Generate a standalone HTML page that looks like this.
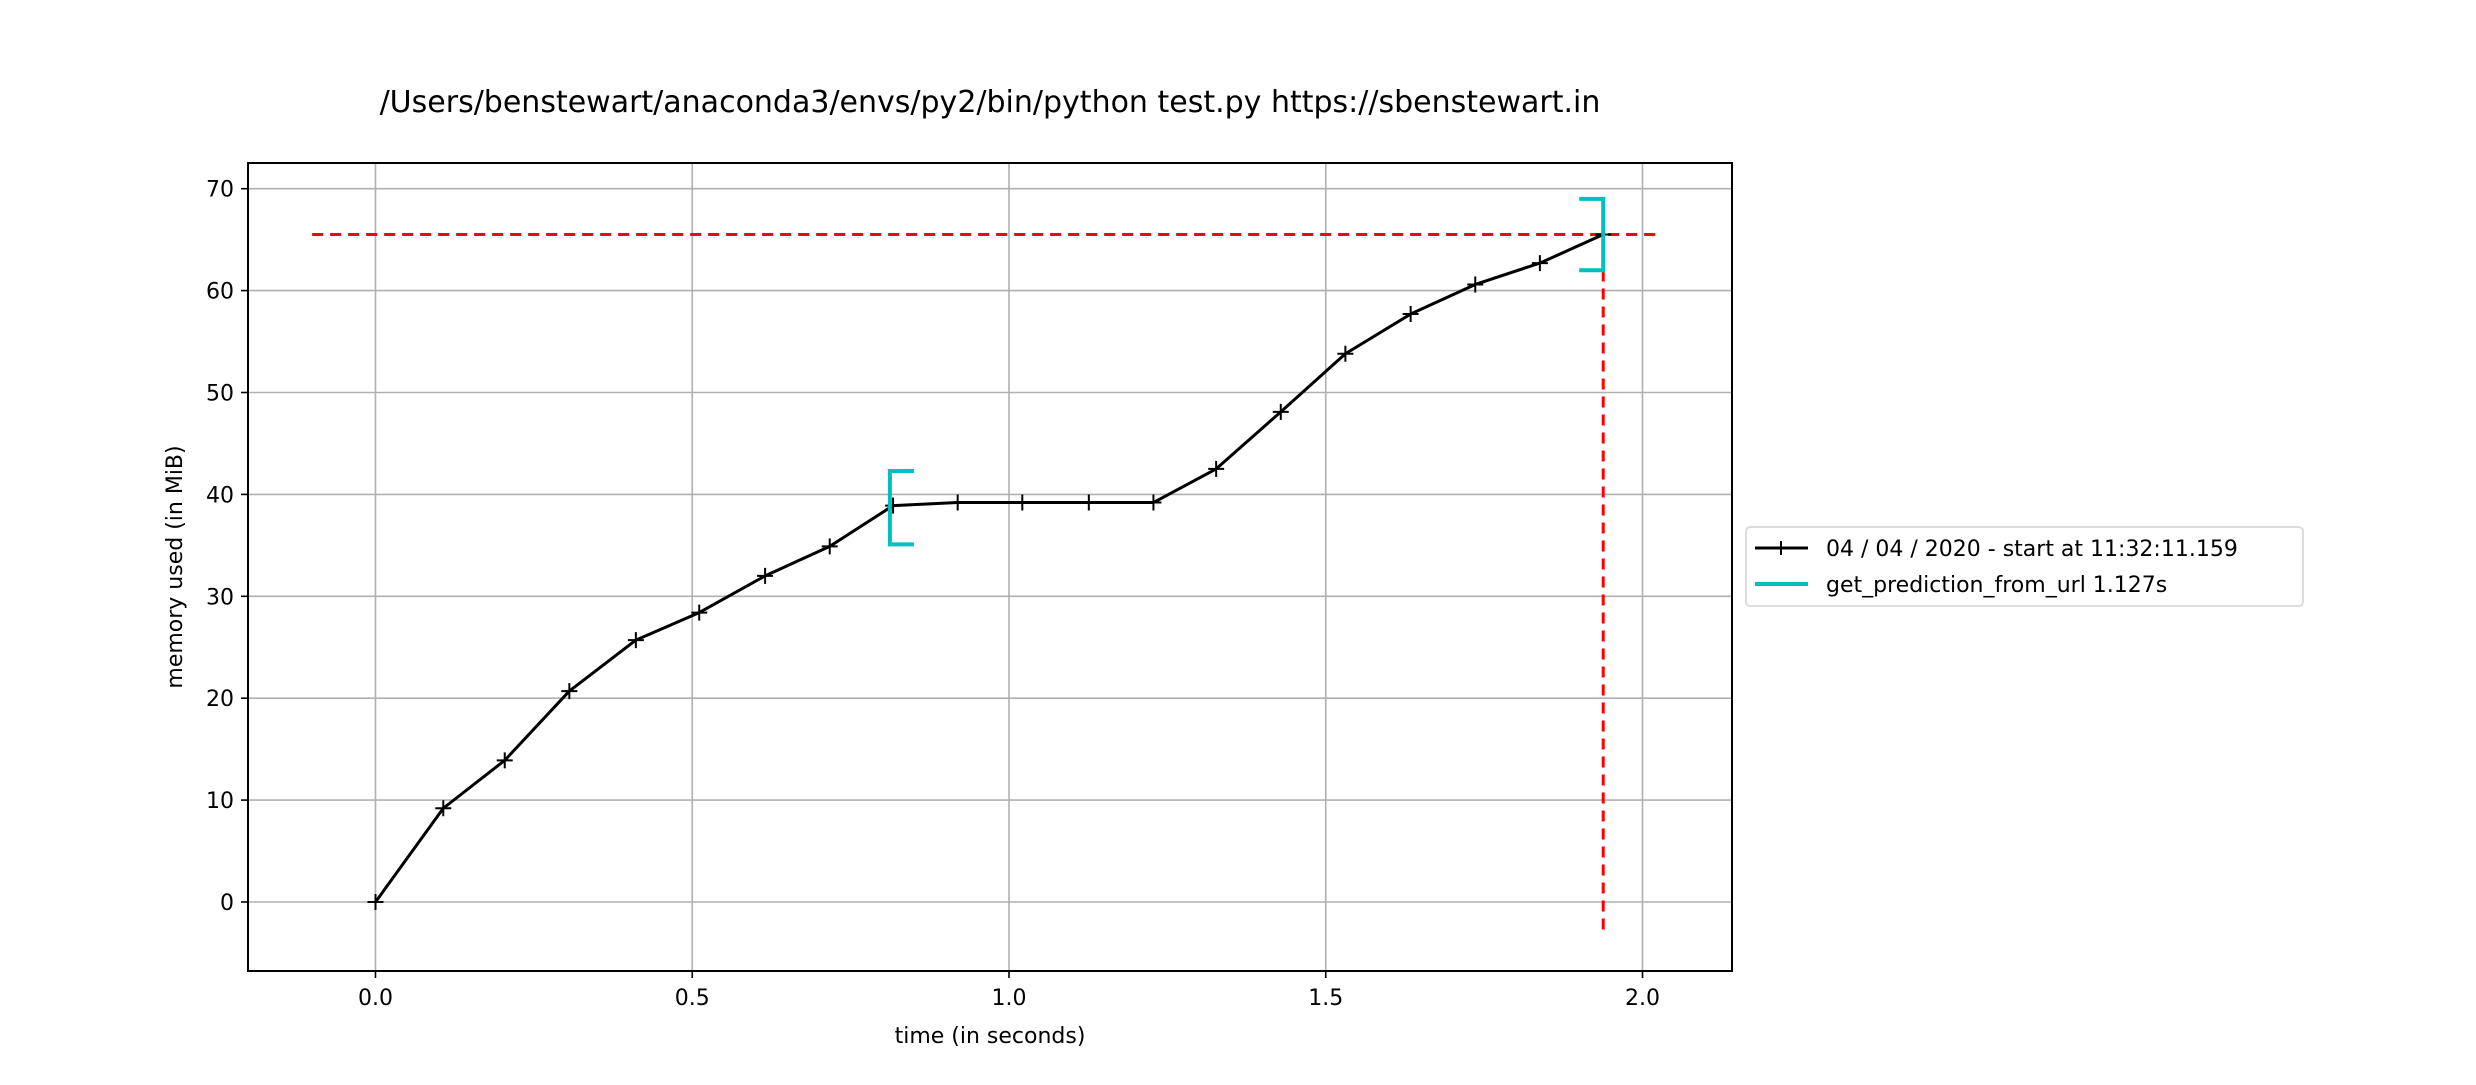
<!DOCTYPE html>
<html><head><meta charset="utf-8"><style>
body{margin:0;background:#fff}
svg text{font-family:"DejaVu Sans","Liberation Sans",sans-serif;fill:#000}
</style></head><body>
<svg width="2476" height="1080" xmlns="http://www.w3.org/2000/svg">
<text x="990" y="112" font-size="30" text-anchor="middle">/Users/benstewart/anaconda3/envs/py2/bin/python test.py https://sbenstewart.in</text>
<g id="grid"></g>
<g id="marks"></g>
<rect x="248" y="163" width="1484" height="808" fill="none" stroke="#000" stroke-width="2"/>
<g id="ticks"></g>
<text x="990" y="1043" font-size="22" text-anchor="middle">time (in seconds)</text>
<text transform="translate(182,567) rotate(-90)" font-size="22" text-anchor="middle">memory used (in MiB)</text>
<g>
<rect x="1746" y="527" width="557" height="79" rx="4" fill="#fff" stroke="#ddd" stroke-width="2"/>
<line x1="1755" y1="548" x2="1808" y2="548" stroke="#000" stroke-width="3"/>
<line x1="1781" y1="541" x2="1781" y2="555" stroke="#000" stroke-width="2"/>
<text x="1826" y="556" font-size="22">04 / 04 / 2020 - start at 11:32:11.159</text>
<line x1="1755" y1="584" x2="1808" y2="584" stroke="#00bfbf" stroke-width="4"/>
<text x="1826" y="592" font-size="22">get_prediction_from_url 1.127s</text>
</g>
</svg>
<script>
const times=[0,0.107,0.204,0.306,0.411,0.511,0.615,0.717,0.817,0.919,1.021,1.126,1.228,1.327,1.429,1.531,1.634,1.736,1.838,1.938];
const mem=[0,9.2,13.9,20.7,25.7,28.4,32.0,34.9,38.9,39.2,39.2,39.2,39.2,42.5,48.1,53.8,57.7,60.6,62.7,65.5];
const xTicks=[0,0.5,1.0,1.5,2.0];
const xTickLabels=["0.0","0.5","1.0","1.5","2.0"];
const yTicks=[0,10,20,30,40,50,60,70];
const funcStart=[0.812];
const funcEnd=[1.938];
const funcLow=[35.1,62.0];
const funcHigh=[42.3,69.0];
const maxMem=[65.5];
const xr=[-0.1,2.025];
const yMin=[-3.3];
const X=t=>375.5+t*633.5;
const Y=v=>902-v*10.19;
const NS="http://www.w3.org/2000/svg";
function mk(p,tag,a){const e=document.createElementNS(NS,tag);for(const k in a)e.setAttribute(k,a[k]);p.appendChild(e);return e;}
const grid=document.getElementById('grid'),marks=document.getElementById('marks'),ticks=document.getElementById('ticks');
xTicks.forEach((t,i)=>{
 const g=mk(grid,'line',{x1:X(t),x2:X(t),y1:163,y2:971,stroke:'#b0b0b0','stroke-width':1.6});
 
 
 mk(ticks,'line',{x1:X(t),x2:X(t),y1:971,y2:978,stroke:'#000','stroke-width':1.6});
 const tx=mk(ticks,'text',{x:X(t),y:1005,'font-size':22,'text-anchor':'middle'});tx.textContent=xTickLabels[i];
 
 
});
yTicks.forEach(v=>{
 const g=mk(grid,'line',{x1:248,x2:1732,y1:Y(v),y2:Y(v),stroke:'#b0b0b0','stroke-width':1.6});
 
 
 mk(ticks,'line',{x1:241,x2:248,y1:Y(v),y2:Y(v),stroke:'#000','stroke-width':1.6});
 const tx=mk(ticks,'text',{x:234,y:Y(v)+8,'font-size':22,'text-anchor':'end'});tx.textContent=v;
 
 
});
const h=mk(marks,'line',{x1:X(xr[0]),x2:X(xr[1]),y1:Y(maxMem[0]),y2:Y(maxMem[0]),stroke:'#f00','stroke-width':3,'stroke-dasharray':'11 7'});


const v=mk(marks,'line',{x1:X(times[times.length-1]),x2:X(times[times.length-1]),y1:Y(maxMem[0]),y2:Y(yMin[0]),stroke:'#f00','stroke-width':3,'stroke-dasharray':'11 7'});


const pl=mk(marks,'polyline',{points:times.map((t,i)=>X(t)+','+Y(mem[i])).join(' '),fill:'none',stroke:'#000','stroke-width':3,'stroke-linejoin':'round'});


times.forEach((t,i)=>{
 const m=mk(marks,'path',{d:`M${X(t)-8},${Y(mem[i])}h16M${X(t)},${Y(mem[i])-8}v16`,stroke:'#000','stroke-width':2});
 
 
});
const bs=mk(marks,'path',{d:`M${X(funcStart[0])+24},${Y(funcHigh[0])}H${X(funcStart[0])}V${Y(funcLow[0])}H${X(funcStart[0])+24}`,fill:'none',stroke:'#00bfbf','stroke-width':4});


const be=mk(marks,'path',{d:`M${X(funcEnd[0])-24},${Y(funcHigh[1])}H${X(funcEnd[0])}V${Y(funcLow[1])}H${X(funcEnd[0])-24}`,fill:'none',stroke:'#00bfbf','stroke-width':4});


</script>
</body></html>
